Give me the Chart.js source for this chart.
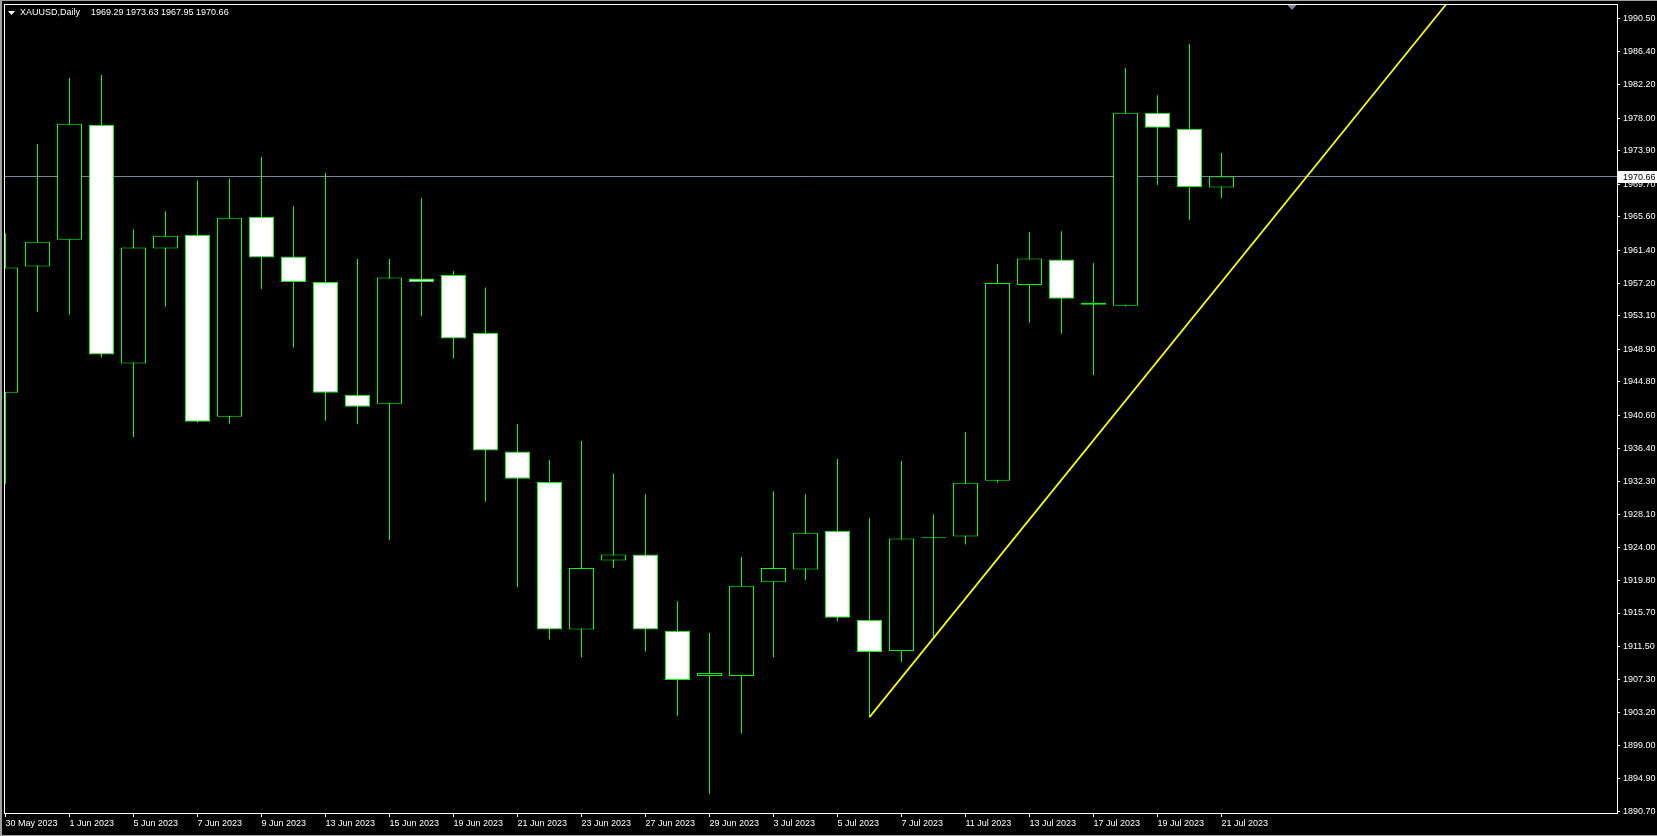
<!DOCTYPE html>
<html>
<head>
<meta charset="utf-8">
<style>
  html, body { margin: 0; padding: 0; background: #000; }
  canvas { display: block; }
</style>
<script src="https://cdn.jsdelivr.net/npm/chart.js@4.4.0/dist/chart.umd.min.js"></script>
</head>
<body>
<canvas id="chart" width="1657" height="836"></canvas>
<script>
const symbol = 'XAUUSD';
const timeframe = 'Daily';
const dates = ['30 May 2023', '31 May 2023', '1 Jun 2023', '2 Jun 2023', '5 Jun 2023', '6 Jun 2023', '7 Jun 2023',
    '8 Jun 2023', '9 Jun 2023', '12 Jun 2023', '13 Jun 2023', '14 Jun 2023', '15 Jun 2023', '16 Jun 2023',
    '19 Jun 2023', '20 Jun 2023', '21 Jun 2023', '22 Jun 2023', '23 Jun 2023', '26 Jun 2023', '27 Jun 2023',
    '28 Jun 2023', '29 Jun 2023', '30 Jun 2023', '3 Jul 2023', '4 Jul 2023', '5 Jul 2023', '6 Jul 2023',
    '7 Jul 2023', '10 Jul 2023', '11 Jul 2023', '12 Jul 2023', '13 Jul 2023', '14 Jul 2023', '17 Jul 2023',
    '18 Jul 2023', '19 Jul 2023', '20 Jul 2023', '21 Jul 2023'];
const opens = [1943.42, 1959.33, 1962.71, 1977.18, 1947.12, 1961.59, 1963.34, 1940.42, 1965.59, 1960.58,
    1957.39, 1943.17, 1942.04, 1957.83, 1958.27, 1950.99, 1936.03, 1932.21, 1913.61, 1922.32,
    1923.07, 1913.48, 1907.78, 1907.78, 1919.56, 1921.19, 1926.07, 1914.86, 1910.92, 1925.10,
    1925.32, 1932.34, 1957.01, 1960.21, 1954.51, 1954.38, 1978.68, 1976.68, 1969.29];
const highs = [1963.53, 1974.74, 1983.07, 1983.44, 1964.03, 1966.28, 1970.17, 1970.42, 1973.11, 1966.91,
    1971.11, 1960.27, 1960.27, 1967.91, 1958.77, 1956.70, 1939.48, 1934.97, 1937.35, 1933.28,
    1930.65, 1917.18, 1913.17, 1922.76, 1931.02, 1930.65, 1935.09, 1927.64, 1934.84, 1928.14,
    1938.47, 1959.64, 1963.65, 1963.78, 1959.77, 1984.32, 1980.88, 1987.33, 1973.63];
const lows = [1931.96, 1953.63, 1953.26, 1947.87, 1937.85, 1954.26, 1939.66, 1939.54, 1956.51, 1949.12,
    1939.91, 1939.48, 1924.88, 1953.07, 1947.74, 1929.71, 1918.99, 1912.36, 1910.10, 1921.38,
    1910.85, 1902.77, 1892.94, 1900.52, 1910.10, 1919.87, 1914.67, 1902.59, 1909.54, 1912.55,
    1924.32, 1932.09, 1952.25, 1950.87, 1945.68, 1954.30, 1969.60, 1965.22, 1967.95];
const closes = [1959.21, 1962.46, 1977.31, 1948.24, 1961.71, 1963.21, 1939.79, 1965.47, 1960.46, 1957.39,
    1943.42, 1941.67, 1957.95, 1957.39, 1950.25, 1936.16, 1932.59, 1913.61, 1921.38, 1923.07,
    1913.61, 1907.28, 1908.16, 1919.12, 1921.38, 1925.82, 1915.11, 1910.79, 1925.07, 1925.15,
    1932.09, 1957.26, 1960.33, 1955.26, 1954.76, 1978.68, 1976.80, 1969.35, 1970.66];
const priceTicks = [1890.70, 1894.90, 1899.00, 1903.20, 1907.30, 1911.50, 1915.70, 1919.80, 1924.00,
    1928.10, 1932.30, 1936.40, 1940.60, 1944.80, 1948.90, 1953.10, 1957.20, 1961.40, 1965.60,
    1969.70, 1973.90, 1978.00, 1982.20, 1986.40, 1990.50];
const bidPrice = 1970.66;
const trendX = [27, 47];
const trendY = [1902.59, 2002.2];

// visible window of the chart (bars and price)
const xMin = -0.046875, xMax = 50.359375;
const yMin = 1890.52, yMax = 1992.38;
const shiftMarkAt = 40.2;

const font = { family: 'Liberation Sans, Arial, sans-serif', size: 9 };
const fontCss = '9px "Liberation Sans", Arial, sans-serif';

const bodyData = dates.map((d, i) => ({ x: i, y: [opens[i], closes[i]] }));
const wickData = dates.map((d, i) => ({ x: i, y: [lows[i], highs[i]] }));
const bodyFill = dates.map((d, i) => closes[i] >= opens[i] ? '#000000' : '#ffffff');
const last = dates.length - 1;

const terminal = {
    id: 'terminal',
    beforeDraw(chart) {
        const { ctx, width, height } = chart;
        ctx.save();
        ctx.fillStyle = '#000';
        ctx.fillRect(0, 0, width, height);
        ctx.restore();
    },
    afterDraw(chart) {
        const { ctx, width, height, chartArea: a, scales: { x, y } } = chart;
        ctx.save();
        // window edge
        ctx.fillStyle = '#a0a0a0';
        ctx.fillRect(0, 0, 2, height);
        ctx.fillRect(0, 0, width, 1);
        ctx.fillRect(0, height - 1, width, 1);
        // plot frame
        ctx.strokeStyle = '#ffffff';
        ctx.lineWidth = 1;
        ctx.strokeRect(a.left + 0.5, a.top + 0.5, a.right - a.left, a.bottom - a.top);
        // chart shift marker
        const sx = Math.round(x.getPixelForValue(shiftMarkAt));
        ctx.fillStyle = '#7d8c9c';
        ctx.beginPath();
        ctx.moveTo(sx - 4.5, a.top + 1);
        ctx.lineTo(sx + 4.5, a.top + 1);
        ctx.lineTo(sx, a.top + 6);
        ctx.closePath();
        ctx.fill();
        // header
        ctx.fillStyle = '#ffffff';
        ctx.beginPath();
        ctx.moveTo(8, 11);
        ctx.lineTo(15, 11);
        ctx.lineTo(11.5, 15);
        ctx.closePath();
        ctx.fill();
        ctx.font = fontCss;
        ctx.textBaseline = 'middle';
        ctx.textAlign = 'left';
        ctx.fillText(symbol + ',' + timeframe, 20, 13);
        ctx.fillText([opens[last], highs[last], lows[last], closes[last]].map(v => v.toFixed(2)).join(' '), 91, 13);
        // bid price label
        const by = Math.round(y.getPixelForValue(bidPrice));
        ctx.fillStyle = '#ffffff';
        ctx.fillRect(a.right + 1, by - 6, width - a.right - 1, 12);
        ctx.fillStyle = '#000000';
        ctx.fillText(bidPrice.toFixed(2), a.right + 6, by + 0.5);
        ctx.restore();
    }
};

new Chart(document.getElementById('chart'), {
    type: 'bar',
    data: {
        datasets: [
            {
                type: 'line', label: 'Trend',
                data: trendX.map((v, i) => ({ x: v, y: trendY[i] })),
                borderColor: '#ffff00', borderWidth: 1.7, pointRadius: 0, tension: 0, clip: 0, order: 0
            },
            {
                type: 'bar', label: 'Body', data: bodyData,
                backgroundColor: bodyFill, borderColor: '#00ff00', borderWidth: 1, borderSkipped: false,
                inflateAmount: 0, barThickness: 25, grouped: false, minBarLength: 1, clip: 0, order: 1
            },
            {
                type: 'bar', label: 'Wick', data: wickData,
                backgroundColor: '#00ff00', borderWidth: 0, inflateAmount: 0,
                barThickness: 1, grouped: false, clip: 0, order: 2
            },
            {
                type: 'line', label: 'Bid',
                data: [{ x: -1, y: bidPrice }, { x: 60, y: bidPrice }],
                borderColor: '#778899', borderWidth: 1, pointRadius: 0, clip: 0, order: 3
            }
        ]
    },
    options: {
        responsive: false,
        animation: false,
        devicePixelRatio: 1,
        layout: { padding: { left: 4, top: 4, right: 0, bottom: 0 } },
        plugins: { legend: { display: false }, tooltip: { enabled: false } },
        scales: {
            x: {
                type: 'linear', min: xMin, max: xMax, offset: false,
                afterBuildTicks: s => { s.ticks = dates.map((d, i) => i).filter(i => i % 2 === 0).map(v => ({ value: v })); },
                afterFit: s => { s.height = 23; s.paddingLeft = 0; s.paddingRight = 0; },
                grid: { offset: false, drawOnChartArea: false, tickLength: 4, color: '#ffffff' },
                border: { display: false },
                ticks: {
                    color: '#ffffff', font, padding: 1, align: 'start', maxRotation: 0, minRotation: 0,
                    autoSkip: false, callback: v => dates[v]
                }
            },
            y: {
                type: 'linear', position: 'right', min: yMin, max: yMax, beginAtZero: false,
                afterBuildTicks: s => { s.ticks = priceTicks.map(v => ({ value: v })); },
                afterFit: s => { s.width = 40; s.paddingTop = 0; s.paddingBottom = 0; },
                grid: { drawOnChartArea: false, tickLength: 3, color: '#ffffff' },
                border: { display: false },
                ticks: { color: '#ffffff', font, padding: 3, autoSkip: false, callback: v => v.toFixed(2) }
            }
        }
    },
    plugins: [terminal]
});
</script>
</body>
</html>
